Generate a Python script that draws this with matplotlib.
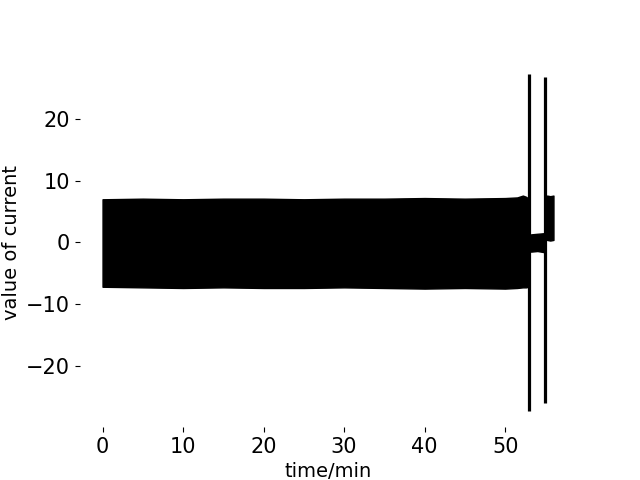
import matplotlib
matplotlib.use("Agg")
import matplotlib.pyplot as plt

# envelope of the dense current signal (min / value)
t_main = [0, 5, 10, 15, 20, 25, 30, 35, 40, 45, 50, 51.5, 52.2, 52.6, 52.9]
up_main = [7.0, 7.1, 7.0, 7.1, 7.1, 7.0, 7.1, 7.1, 7.2, 7.1, 7.2, 7.3, 7.6, 7.4, 7.1]
lo_main = [-7.2, -7.3, -7.4, -7.3, -7.4, -7.4, -7.3, -7.4, -7.5, -7.4, -7.5, -7.4, -7.3, -7.3, -7.2]

t_quiet = [53.2, 54.0, 54.9]
up_quiet = [1.3, 1.4, 1.5]
lo_quiet = [-1.5, -1.4, -1.6]

t_last = [55.2, 55.6, 56.0]
up_last = [7.6, 7.5, 7.6]
lo_last = [0.4, 0.3, 0.4]

spike_t = [53.0, 54.95]
spike_top = [27.3, 26.8]
spike_bot = [-27.3, -26.0]

fig, ax = plt.subplots(figsize=(6.4, 4.8), dpi=100)
for t, u, l in [(t_main, up_main, lo_main), (t_quiet, up_quiet, lo_quiet), (t_last, up_last, lo_last)]:
    ax.fill_between(t, l, u, color='black', edgecolor='black', linewidth=1)
ax.vlines(spike_t, spike_bot, spike_top, color='black', linewidth=2.3)

ax.set_xlim(-2.8, 58.8)
ax.set_ylim(-30.0, 30.0)
ax.set_xticks([0, 10, 20, 30, 40, 50])
ax.set_yticks([-20, -10, 0, 10, 20])
for s in ax.spines.values():
    s.set_visible(False)
ax.tick_params(labelsize=15)
ax.set_xlabel('time/min', fontsize=14)
ax.set_ylabel('value of current', fontsize=14)
plt.savefig('out.png')
